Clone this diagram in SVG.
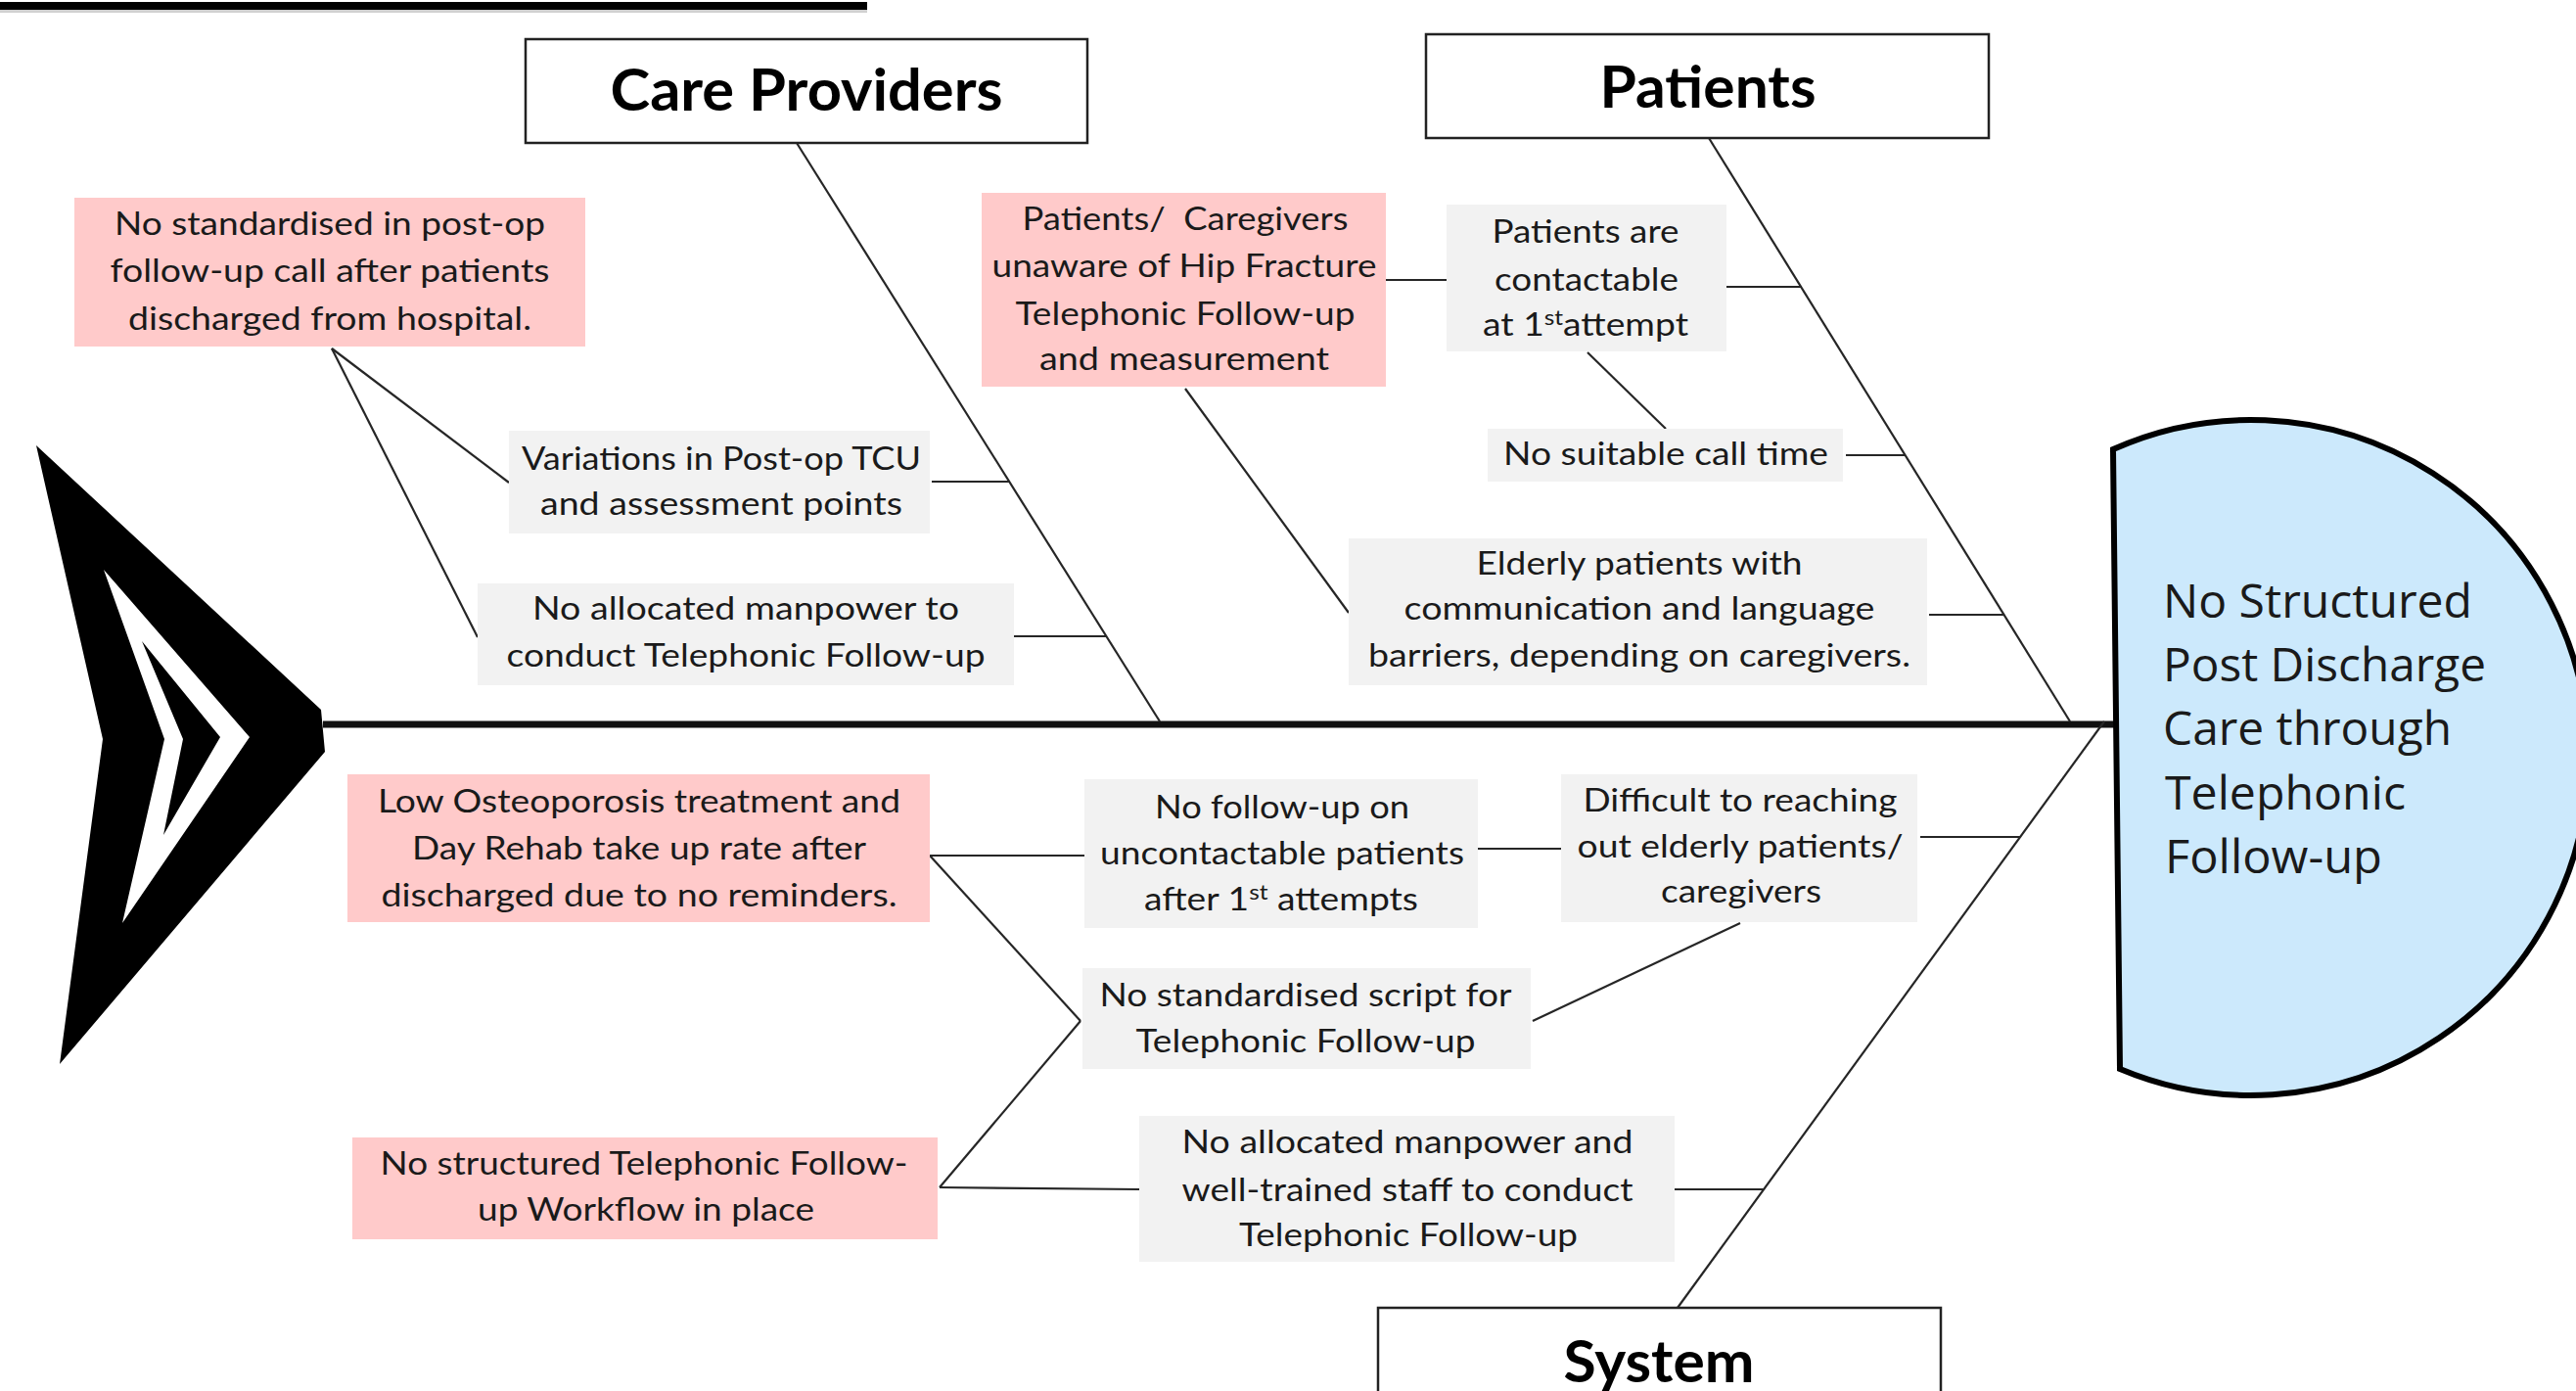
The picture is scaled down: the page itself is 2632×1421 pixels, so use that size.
<svg xmlns="http://www.w3.org/2000/svg" width="2632" height="1421" viewBox="0 0 2632 1421">
<style>
.t{font-family:Lato,"Open Sans","Liberation Sans",sans-serif;font-size:32px;fill:#1a1a1a;text-anchor:middle}
.h{font-family:Lato,"Open Sans","Liberation Sans",sans-serif;font-size:60px;font-weight:700;fill:#000;text-anchor:middle}
.c{font-family:"Open Sans","Liberation Sans",sans-serif;font-size:47px;fill:#1a1a1a}
.pink{fill:#ffcaca}
.gray{fill:#f2f2f2}
.hbox{fill:#fff;stroke:#222;stroke-width:2.5}
.ln{stroke:#262626;stroke-width:2.2;fill:none}
</style>
<rect width="2632" height="1421" fill="#fff"/>
<!-- partial title underline -->
<rect x="0" y="10" width="886" height="3" fill="#d0d0d0"/>
<rect x="0" y="2" width="886" height="8" fill="#000"/>

<!-- fish tail -->
<g id="tail">
<polygon points="37,455 328,725 332,768 61,1087 105,755" fill="#000"/>
<polygon points="106,582 255,753 125,943 168,755" fill="#fff"/>
<polygon points="145,655 225,753 167,853 187,755" fill="#000"/>
</g>

<!-- connectors -->
<g id="connectors" class="ln">
<line x1="330" y1="740" x2="2162" y2="740" stroke="#111" stroke-width="7"/>
<line x1="814" y1="146" x2="1185" y2="737"/>
<line x1="339" y1="356" x2="520" y2="493"/>
<line x1="339" y1="356" x2="488" y2="651"/>
<line x1="952" y1="492" x2="1031" y2="492"/>
<line x1="1036" y1="650" x2="1131" y2="650"/>
<line x1="1746" y1="141" x2="2115" y2="737"/>
<line x1="1416" y1="286" x2="1478" y2="286"/>
<line x1="1211" y1="397" x2="1378" y2="626"/>
<line x1="1764" y1="293" x2="1841" y2="293"/>
<line x1="1622" y1="360" x2="1702" y2="438"/>
<line x1="1886" y1="465" x2="1947" y2="465"/>
<line x1="1971" y1="628" x2="2048" y2="628"/>
<line x1="2150" y1="737" x2="1714" y2="1336"/>
<line x1="1962" y1="855" x2="2064" y2="855"/>
<line x1="1711" y1="1215" x2="1802" y2="1215"/>
<line x1="950" y1="874" x2="1108" y2="874"/>
<line x1="1510" y1="867" x2="1595" y2="867"/>
<line x1="950" y1="874" x2="1104" y2="1043"/>
<line x1="960" y1="1213" x2="1104" y2="1043"/>
<line x1="960" y1="1213" x2="1164" y2="1215"/>
<line x1="1778" y1="943" x2="1566" y2="1043"/>
</g>

<!-- head -->
<g id="head">
<path d="M2159,459 A345,345 0 1 1 2166,1092 Z" fill="#cce9fc" stroke="#000" stroke-width="6"/>
<text class="c" x="2210" y="631" textLength="316" lengthAdjust="spacingAndGlyphs">No Structured</text>
<text class="c" x="2210" y="696" textLength="330" lengthAdjust="spacingAndGlyphs">Post Discharge</text>
<text class="c" x="2210" y="761" textLength="295" lengthAdjust="spacingAndGlyphs">Care through</text>
<text class="c" x="2212" y="827" textLength="246" lengthAdjust="spacingAndGlyphs">Telephonic</text>
<text class="c" x="2212" y="892" textLength="222" lengthAdjust="spacingAndGlyphs">Follow-up</text>
</g>

<!-- category headers -->
<g id="care-providers">
<rect class="hbox" x="537" y="40" width="574" height="106"/>
<text class="h" x="824" y="113" textLength="401" lengthAdjust="spacingAndGlyphs">Care Providers</text>
</g>
<g id="patients">
<rect class="hbox" x="1457" y="35" width="575" height="106"/>
<text class="h" x="1745" y="110" textLength="221" lengthAdjust="spacingAndGlyphs">Patients</text>
</g>
<g id="system">
<rect class="hbox" x="1408" y="1336" width="575" height="110"/>
<text class="h" x="1695" y="1412" textLength="195" lengthAdjust="spacingAndGlyphs">System</text>
</g>

<!-- causes -->
<g id="no-standardised-postop">
<rect class="pink" x="76" y="202" width="522" height="152"/>
<text class="t" x="337" y="240" textLength="440" lengthAdjust="spacingAndGlyphs">No standardised in post-op</text>
<text class="t" x="337" y="288" textLength="449" lengthAdjust="spacingAndGlyphs">follow-up call after patients</text>
<text class="t" x="337" y="337" textLength="412" lengthAdjust="spacingAndGlyphs">discharged from hospital.</text>
</g>
<g id="variations">
<rect class="gray" x="520" y="440" width="430" height="105"/>
<text class="t" x="737" y="480" textLength="408" lengthAdjust="spacingAndGlyphs">Variations in Post-op TCU</text>
<text class="t" x="737" y="526" textLength="370" lengthAdjust="spacingAndGlyphs">and assessment points</text>
</g>
<g id="no-manpower-to">
<rect class="gray" x="488" y="596" width="548" height="104"/>
<text class="t" x="762" y="633" textLength="436" lengthAdjust="spacingAndGlyphs">No allocated manpower to</text>
<text class="t" x="762" y="681" textLength="489" lengthAdjust="spacingAndGlyphs">conduct Telephonic Follow-up</text>
</g>
<g id="unaware">
<rect class="pink" x="1003" y="197" width="413" height="198"/>
<text class="t" x="1211" y="235" textLength="333" lengthAdjust="spacingAndGlyphs" xml:space="preserve">Patients/  Caregivers</text>
<text class="t" x="1210" y="283" textLength="393" lengthAdjust="spacingAndGlyphs">unaware of Hip Fracture</text>
<text class="t" x="1211" y="332" textLength="347" lengthAdjust="spacingAndGlyphs">Telephonic Follow-up</text>
<text class="t" x="1210" y="378" textLength="296" lengthAdjust="spacingAndGlyphs">and measurement</text>
</g>
<g id="contactable">
<rect class="gray" x="1478" y="209" width="286" height="150"/>
<text class="t" x="1620" y="248" textLength="191" lengthAdjust="spacingAndGlyphs">Patients are</text>
<text class="t" x="1621" y="297" textLength="188" lengthAdjust="spacingAndGlyphs">contactable</text>
<text class="t" x="1620" y="343" textLength="210" lengthAdjust="spacingAndGlyphs">at 1<tspan font-size="21" dy="-11">st</tspan><tspan dy="11">attempt</tspan></text>
</g>
<g id="call-time">
<rect class="gray" x="1520" y="438" width="363" height="54"/>
<text class="t" x="1702" y="475" textLength="332" lengthAdjust="spacingAndGlyphs">No suitable call time</text>
</g>
<g id="elderly">
<rect class="gray" x="1378" y="550" width="591" height="150"/>
<text class="t" x="1675" y="587" textLength="333" lengthAdjust="spacingAndGlyphs">Elderly patients with</text>
<text class="t" x="1675" y="633" textLength="481" lengthAdjust="spacingAndGlyphs">communication and language</text>
<text class="t" x="1675" y="681" textLength="554" lengthAdjust="spacingAndGlyphs">barriers, depending on caregivers.</text>
</g>
<g id="osteoporosis">
<rect class="pink" x="355" y="791" width="595" height="151"/>
<text class="t" x="653" y="830" textLength="534" lengthAdjust="spacingAndGlyphs">Low Osteoporosis treatment and</text>
<text class="t" x="653" y="878" textLength="464" lengthAdjust="spacingAndGlyphs">Day Rehab take up rate after</text>
<text class="t" x="653" y="926" textLength="527" lengthAdjust="spacingAndGlyphs">discharged due to no reminders.</text>
</g>
<g id="no-follow-up">
<rect class="gray" x="1108" y="796" width="402" height="152"/>
<text class="t" x="1310" y="836" textLength="260" lengthAdjust="spacingAndGlyphs">No follow-up on</text>
<text class="t" x="1310" y="883" textLength="372" lengthAdjust="spacingAndGlyphs">uncontactable patients</text>
<text class="t" x="1309" y="930" textLength="280" lengthAdjust="spacingAndGlyphs">after 1<tspan font-size="21" dy="-11">st</tspan><tspan dy="11"> attempts</tspan></text>
</g>
<g id="difficult">
<rect class="gray" x="1595" y="791" width="364" height="151"/>
<text class="t" x="1778" y="829" textLength="321" lengthAdjust="spacingAndGlyphs">Difficult to reaching</text>
<text class="t" x="1778" y="876" textLength="333" lengthAdjust="spacingAndGlyphs">out elderly patients/</text>
<text class="t" x="1779" y="922" textLength="164" lengthAdjust="spacingAndGlyphs">caregivers</text>
</g>
<g id="script">
<rect class="gray" x="1106" y="989" width="458" height="103"/>
<text class="t" x="1334" y="1028" textLength="421" lengthAdjust="spacingAndGlyphs">No standardised script for</text>
<text class="t" x="1334" y="1075" textLength="347" lengthAdjust="spacingAndGlyphs">Telephonic Follow-up</text>
</g>
<g id="manpower-and">
<rect class="gray" x="1164" y="1140" width="547" height="149"/>
<text class="t" x="1438" y="1178" textLength="461" lengthAdjust="spacingAndGlyphs">No allocated manpower and</text>
<text class="t" x="1438" y="1227" textLength="461" lengthAdjust="spacingAndGlyphs">well-trained staff to conduct</text>
<text class="t" x="1439" y="1273" textLength="346" lengthAdjust="spacingAndGlyphs">Telephonic Follow-up</text>
</g>
<g id="no-workflow">
<rect class="pink" x="360" y="1162" width="598" height="104"/>
<text class="t" x="658" y="1200" textLength="539" lengthAdjust="spacingAndGlyphs">No structured Telephonic Follow-</text>
<text class="t" x="660" y="1247" textLength="344" lengthAdjust="spacingAndGlyphs">up Workflow in place</text>
</g>
</svg>
